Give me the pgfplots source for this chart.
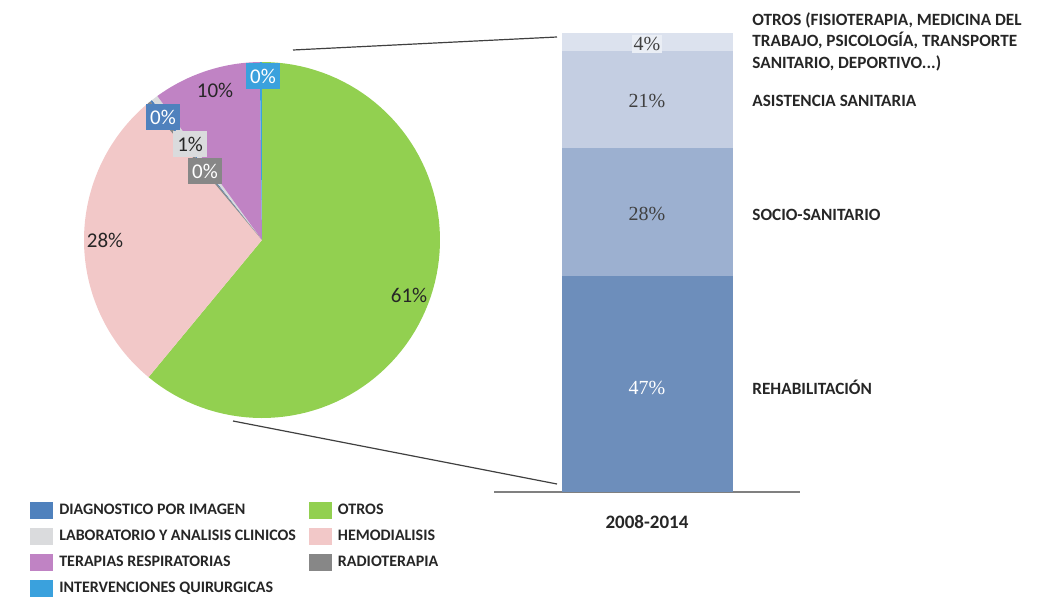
\documentclass[border=0pt]{standalone}
\usepackage{fontspec}
\setmainfont{Carlito}
\newfontfamily\numserif{Liberation Serif}
\usepackage{pgfplots}
\pgfplotsset{compat=1.18}

\definecolor{cDiag}{HTML}{4F81BD}
\definecolor{cLab}{HTML}{DADBDD}
\definecolor{cTer}{HTML}{C083C4}
\definecolor{cInt}{HTML}{3AA1DD}
\definecolor{cOtros}{HTML}{92D050}
\definecolor{cHemo}{HTML}{F2C8C8}
\definecolor{cRadio}{HTML}{878787}
\definecolor{bRehab}{HTML}{6D8EBB}
\definecolor{bSocio}{HTML}{9CB0D0}
\definecolor{bAsist}{HTML}{C4CEE2}
\definecolor{bOtros}{HTML}{DCE2EE}
\definecolor{txt}{HTML}{262626}

\newcommand\piefont{\fontsize{10.5}{12}\selectfont}
\newcommand\barfont{\numserif\fontsize{10}{12}\selectfont}
\tikzset{boxlbl/.style={font=\piefont, inner xsep=2pt, inner ysep=0pt, minimum height=13pt}}

\begin{document}
\begin{tikzpicture}
\useasboundingbox (0,0) rectangle (529pt,298pt);

% --- pie ---
\begin{axis}[
  at={(131pt,178pt)}, anchor=center,
  x=89pt, y=89pt, xmin=-1, xmax=1, ymin=-1, ymax=1,
  hide axis, clip=false,
  legend columns=4, transpose legend,
  legend cell align=left,
  legend style={at={(-0.152,-0.228)}, anchor=north west, draw=none, fill=none,
    inner sep=0pt, font=\fontsize{8}{9}\selectfont\bfseries, text=txt, row sep=2.3pt,
    /tikz/every odd column/.append style={column sep=1pt},
    /tikz/every even column/.append style={column sep=4.5pt}},
  legend image code/.code={\fill[#1] (0pt,-4.25pt) rectangle (11.5pt,4.25pt);},
]
% first slice angle: OTROS starts at the top
\pgfmathsetmacro\pieang{90+3.6*(0.2+0.6+9.8+0.2)}
\xdef\pieang{\pieang}
\foreach \pv/\pcol/\pname in {0.2/cDiag/DIAGNOSTICO POR IMAGEN,
                      0.6/cLab/LABORATORIO Y ANALISIS CLINICOS,
                      9.8/cTer/TERAPIAS RESPIRATORIAS,
                      0.2/cInt/INTERVENCIONES QUIRURGICAS,
                      61.0/cOtros/OTROS,
                      27.9/cHemo/HEMODIALISIS,
                      0.3/cRadio/RADIOTERAPIA}{
  \pgfmathsetmacro\pieend{\pieang-3.6*\pv}
  \edef\pietmp{\noexpand\addplot[fill=\pcol, draw=none, domain=\pieend:\pieang, samples=90]
     ({cos(x)},{sin(x)}) -- (axis cs:0,0) -- cycle;
     \noexpand\addlegendentry{\pname}}
  \pietmp
  \xdef\pieang{\pieend}
}
\node[font=\piefont, text=txt] at (axis cs:0.826,-0.309) {61\%};
\node[font=\piefont, text=txt] at (axis cs:-0.882,0) {28\%};
\node[font=\piefont, text=txt] at (axis cs:-0.264,0.843) {10\%};
\node[boxlbl, fill=cInt, text=white] at (axis cs:0.006,0.921) {0\%};
\node[boxlbl, fill=cDiag, text=white] at (axis cs:-0.556,0.691) {0\%};
\node[boxlbl, fill=cLab, text=txt] at (axis cs:-0.404,0.539) {1\%};
\node[boxlbl, fill=cRadio, text=white] at (axis cs:-0.320,0.388) {0\%};
\end{axis}

% --- bar of pie ---
\begin{axis}[
  at={(247pt,52pt)}, anchor=south west,
  width=153pt, height=229.5pt, scale only axis,
  xmin=-0.5, xmax=0.5, ymin=0, ymax=100,
  ybar stacked, bar width=85.5pt,
  axis x line=bottom, axis y line=none,
  axis line style={-},
  x axis line style={draw=gray, line width=1pt},
  xtick={0}, xticklabels={2008-2014}, major tick length=0pt,
  xticklabel style={font=\fontsize{9.5}{11}\selectfont\bfseries, text=txt, yshift=-8pt},
  clip=false,
]
\addplot[fill=bRehab, draw=none] coordinates {(0,47)};
\addplot[fill=bSocio, draw=none] coordinates {(0,28)};
\addplot[fill=bAsist, draw=none] coordinates {(0,21)};
\addplot[fill=bOtros, draw=none] coordinates {(0,4)};
\end{axis}

% values of the bar segments (bar centre x = 323.5pt, 2.295pt per percent)
\node[font=\barfont, text=white] at (323.5pt,104.1pt) {47\%};
\node[font=\barfont, text=black!75] at (323.5pt,191.1pt) {28\%};
\node[font=\barfont, text=black!75] at (323.5pt,247.5pt) {21\%};
\node[font=\barfont, text=black!75, fill=bOtros!60!white, inner sep=1pt] at (323.5pt,276pt) {4\%};

% connector lines
\draw[black!75, line width=0.6pt] (146.5pt,273pt) -- (278.5pt,279.5pt);
\draw[black!75, line width=0.6pt] (116.5pt,87.5pt) -- (278.5pt,56pt);

% category labels of the bar
\begin{scope}[every node/.style={font=\fontsize{8.6}{10.75}\selectfont\bfseries, text=txt, anchor=west, inner sep=0pt}]
  \node[align=left] at (376pt,277.25pt) {OTROS (FISIOTERAPIA, MEDICINA DEL\\TRABAJO, PSICOLOGÍA, TRANSPORTE\\SANITARIO, DEPORTIVO...)};
  \node at (376pt,247.5pt) {ASISTENCIA SANITARIA};
  \node at (376pt,190.5pt) {SOCIO-SANITARIO};
  \node at (376pt,104.5pt) {REHABILITACIÓN};
\end{scope}
\end{tikzpicture}
\end{document}
